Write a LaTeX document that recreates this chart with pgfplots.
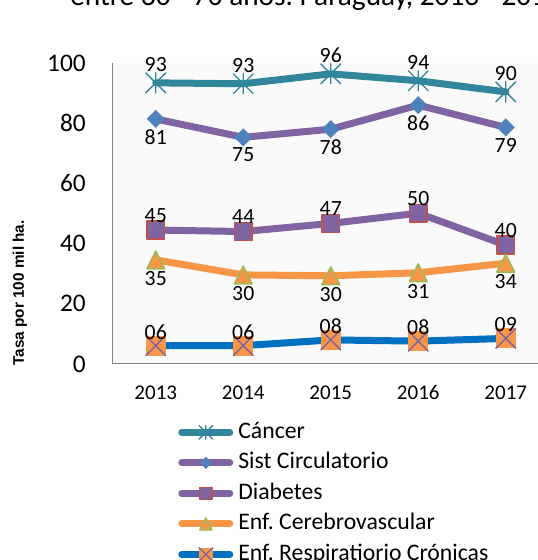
\documentclass[border=0pt]{standalone}
\usepackage{fontspec}
\setmainfont{Carlito}
\newfontfamily\arialfont{Liberation Sans}
\usepackage{pgfplots}
\pgfplotsset{compat=1.18}
\frenchspacing

\definecolor{cTeal}{HTML}{31869B}
\definecolor{cPurple}{HTML}{8064A2}
\definecolor{cBlueD}{HTML}{4F81BD}
\definecolor{cRed}{HTML}{C0504D}
\definecolor{cOrange}{HTML}{F79646}
\definecolor{cGreen}{HTML}{9BBB59}
\definecolor{cBlue}{HTML}{0070C0}
\definecolor{cAxis}{HTML}{868686}

\pgfdeclareplotmark{xast}{%
  \pgfpathmoveto{\pgfqpoint{0pt}{\pgfplotmarksize}}%
  \pgfpathlineto{\pgfqpoint{0pt}{-\pgfplotmarksize}}%
  \pgfpathmoveto{\pgfqpoint{-\pgfplotmarksize}{\pgfplotmarksize}}%
  \pgfpathlineto{\pgfqpoint{\pgfplotmarksize}{-\pgfplotmarksize}}%
  \pgfpathmoveto{\pgfqpoint{-\pgfplotmarksize}{-\pgfplotmarksize}}%
  \pgfpathlineto{\pgfqpoint{\pgfplotmarksize}{\pgfplotmarksize}}%
  \pgfusepathqstroke}
\pgfdeclareplotmark{rdiam}{%
  \pgfpathmoveto{\pgfqpoint{0pt}{\pgfplotmarksize}}%
  \pgfpathlineto{\pgfqpoint{\pgfplotmarksize}{0pt}}%
  \pgfpathlineto{\pgfqpoint{0pt}{-\pgfplotmarksize}}%
  \pgfpathlineto{\pgfqpoint{-\pgfplotmarksize}{0pt}}%
  \pgfpathclose\pgfusepathqfill}
\pgfdeclareplotmark{rtri}{%
  \pgfpathmoveto{\pgfqpoint{0pt}{\pgfplotmarksize}}%
  \pgfpathlineto{\pgfqpoint{\pgfplotmarksize}{-\pgfplotmarksize}}%
  \pgfpathlineto{\pgfqpoint{-\pgfplotmarksize}{-\pgfplotmarksize}}%
  \pgfpathclose\pgfusepathqfillstroke}
\pgfdeclareplotmark{sqx}{%
  \pgfpathrectangle{\pgfqpoint{-\pgfplotmarksize}{-\pgfplotmarksize}}{\pgfqpoint{2\pgfplotmarksize}{2\pgfplotmarksize}}%
  \pgfsetfillcolor{cOrange}\pgfusepathqfill
  \pgfsetlinewidth{1pt}\pgfsetstrokecolor{cPurple}%
  \pgfpathmoveto{\pgfqpoint{-\pgfplotmarksize}{-\pgfplotmarksize}}%
  \pgfpathlineto{\pgfqpoint{\pgfplotmarksize}{\pgfplotmarksize}}%
  \pgfpathmoveto{\pgfqpoint{-\pgfplotmarksize}{\pgfplotmarksize}}%
  \pgfpathlineto{\pgfqpoint{\pgfplotmarksize}{-\pgfplotmarksize}}%
  \pgfusepathqstroke}

\begin{document}
\begin{tikzpicture}[x=1pt,y=1pt]
\useasboundingbox (0,0) rectangle (403.5,420);
\clip (0,0) rectangle (403.5,420);
\node[anchor=base west, inner sep=0pt, font=\fontsize{22}{26}\selectfont] at (52.5,415.5) {entre 30 - 70 años. Paraguay, 2013 - 2017};
\node[rotate=90, inner sep=0pt, font=\arialfont\bfseries\fontsize{11.5}{13}\selectfont] at (15,200.25) {Tasa por 100 mil ha.};
\begin{axis}[
  at={(84pt,147pt)}, anchor=south west,
  scale only axis, width=328.125pt, height=225.75pt,
  xmin=-0.5, xmax=4.5, ymin=0, ymax=100,
  axis x line*=bottom, axis y line*=left,
  axis line style={draw=cAxis, line width=0.75pt},
  axis background/.style={fill=black!2},
  xtick={0,1,2,3,4}, xticklabels={2013,2014,2015,2016,2017},
  ytick={0,20,40,60,80,100},
  major tick length=0pt, tick style={draw=none},
  /pgf/number format/assume math mode=true,
  xticklabel style={font=\fontsize{15.75}{18}\selectfont, anchor=base, inner sep=0pt, yshift=-27pt},
  yticklabel style={font=\fontsize{19}{22}\selectfont, anchor=east, inner sep=0pt, xshift=-19.5pt},
  clip=false,
  nodes near coords, point meta=explicit symbolic,
  every node near coord/.append style={font=\fontsize{16.3}{18}\selectfont, inner sep=0pt, anchor=center, text=black},
  legend cell align=left,
  legend style={at={(axis description cs:0.1509,-0.1887)}, anchor=north west, draw=none, fill=none, inner sep=0pt,
    column sep=3.75pt, row sep=6pt, font=\fontsize{17.8}{20}\selectfont,
    nodes={inner sep=0pt, text height=12.9pt, text depth=4pt}},
  legend image code/.code={\draw[#1, mark repeat=2, mark phase=2, every mark/.append style={scale=0.68}] plot coordinates {(2.625pt,0pt) (20.625pt,0pt) (38.625pt,0pt)};},
  every axis plot/.append style={line width=5.25pt, line cap=round, line join=round},
]
\addplot[cTeal, mark=xast, mark size=7.5pt, mark options={line width=1pt, draw=cTeal},
  every node near coord/.append style={yshift=14pt}]
  coordinates {(0,93.4)[93] (1,93.1)[93] (2,96.4)[96] (3,94.1)[94] (4,90.4)[90]};
\addlegendentry{Cáncer}
\addplot[cPurple, mark=rdiam, mark size=6.75pt, mark options={fill=cBlueD, draw=none},
  every node near coord/.append style={yshift=-13.3pt}]
  coordinates {(0,81.4)[81] (1,75.3)[75] (2,78.0)[78] (3,86.0)[86] (4,78.6)[79]};
\addlegendentry{Sist Circulatorio}
\addplot[cPurple, mark=square*, mark size=6.7pt, mark options={fill=cPurple, draw=cRed, line width=1.1pt},
  every node near coord/.append style={yshift=11pt}]
  coordinates {(0,44.5)[45] (1,44.0)[44] (2,46.7)[47] (3,50.1)[50] (4,39.5)[40]};
\addlegendentry{Diabetes}
\addplot[cOrange, mark=rtri, mark size=6.7pt, mark options={fill=cOrange, draw=cGreen, line width=1.1pt},
  every node near coord/.append style={yshift=-13.7pt}]
  coordinates {(0,34.6)[35] (1,29.6)[30] (2,29.3)[30] (3,30.3)[31] (4,33.5)[34]};
\addlegendentry{Enf. Cerebrovascular}
\addplot[cBlue, mark=sqx, mark size=7.5pt,
  every node near coord/.append style={yshift=10.3pt}]
  coordinates {(0,6.1)[06] (1,6.1)[06] (2,8.0)[08] (3,7.6)[08] (4,8.5)[09]};
\addlegendentry{Enf. Respiratiorio Crónicas}
\end{axis}
\end{tikzpicture}
\end{document}
